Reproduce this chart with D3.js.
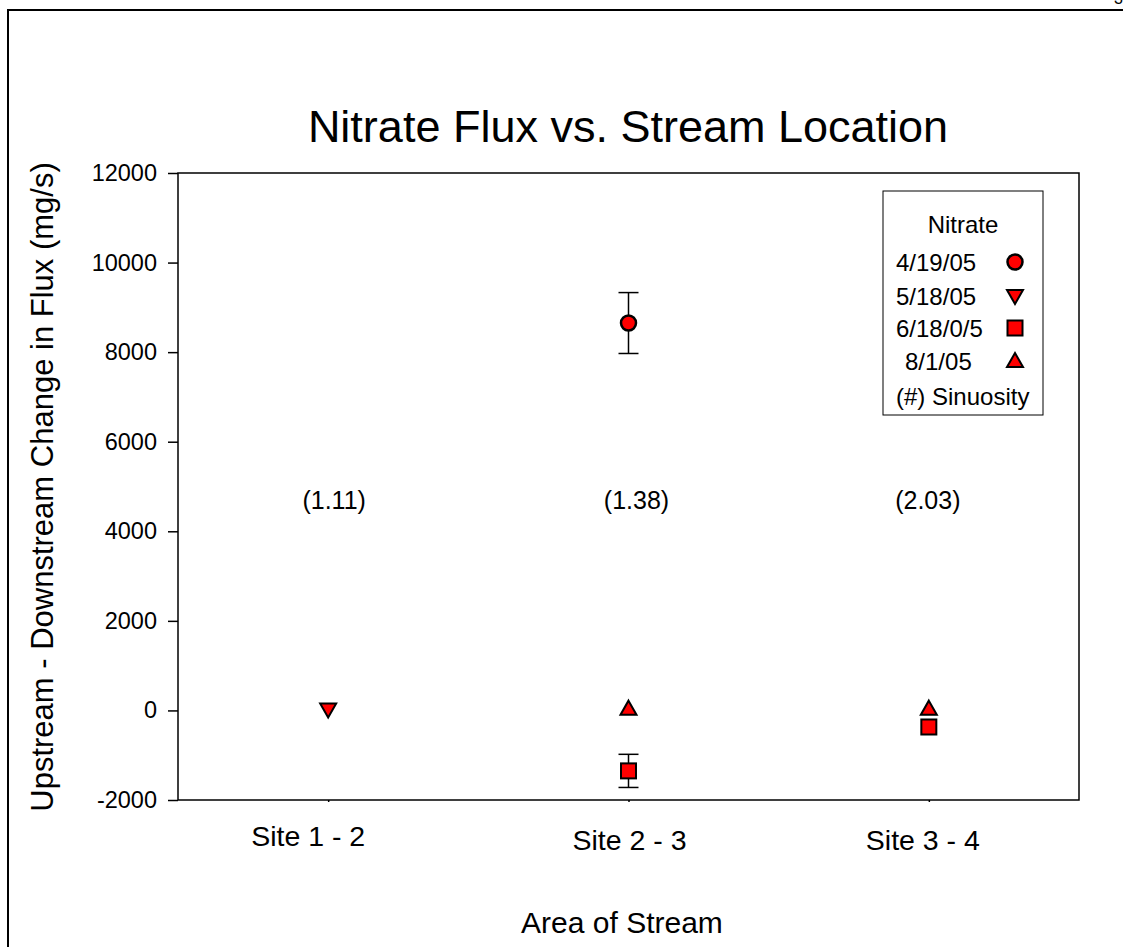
<!DOCTYPE html>
<html>
<head>
    <meta charset="utf-8">
    <title>Nitrate Flux vs. Stream Location</title>
    <script src="https://d3js.org/d3.v7.min.js"></script>
    <style>
        body { margin: 0; background: #fff; }
        text { font-family: "Liberation Sans", Arial, sans-serif; fill: #000; }
    </style>
</head>
<body>
    <div class="chart"></div>
    <script>
        // Data
        const sites = ["Site 1 - 2", "Site 2 - 3", "Site 3 - 4"];
        const sinuosity = ["(1.11)", "(1.38)", "(2.03)"];
        const sinuosityY = 4700;
        const yTicks = [-2000, 0, 2000, 4000, 6000, 8000, 10000, 12000];

        const dates = ["4/19/05", "5/18/05", "6/18/0/5", "8/1/05"];
        const symbols = ["circle", "triangleDown", "square", "triangleUp"];

        // [site index, value, error (null if none)] per date
        const apr19 = [[1, 8650, 680]];
        const may18 = [[0, 20, null]];
        const jun18 = [[1, -1350, 370], [2, -370, null]];
        const aug1 = [[1, 40, null], [2, 40, null]];
        const seriesList = [apr19, may18, jun18, aug1];

        // Layout
        const W = 1123, H = 947;
        const plot = {left: 178, top: 173, right: 1079, bottom: 800};

        const svg = d3.select(".chart")
            .append("svg")
            .attr("width", W)
            .attr("height", H);

        // Outer frame
        svg.append("rect")
            .attr("x", 8).attr("y", 10)
            .attr("width", W + 20).attr("height", H + 20)
            .attr("fill", "none").attr("stroke", "#000").attr("stroke-width", 2);

        svg.append("text")
            .attr("x", 1114).attr("y", 4)
            .attr("font-size", 16)
            .text("3");

        // Scales
        const x = d3.scaleLinear().domain([-0.5, 2.5]).range([plot.left, plot.right]);
        const y = d3.scaleLinear().domain([-2000, 12000]).range([plot.bottom, plot.top]);

        // Plot frame
        svg.append("rect")
            .attr("x", plot.left).attr("y", plot.top)
            .attr("width", plot.right - plot.left).attr("height", plot.bottom - plot.top)
            .attr("fill", "none").attr("stroke", "#000").attr("stroke-width", 1.5);

        // Y axis
        const yAxis = svg.append("g")
            .attr("transform", `translate(${plot.left},0)`)
            .call(d3.axisLeft(y).tickValues(yTicks).tickSize(10).tickPadding(11).tickFormat(d => String(d)));
        yAxis.select(".domain").remove();
        yAxis.selectAll("line").attr("stroke-width", 1.5);
        yAxis.selectAll("text").attr("font-size", 23.5).attr("font-family", "Liberation Sans, Arial, sans-serif");

        // X axis (tiny ticks, labels below)
        const xAxis = svg.append("g")
            .attr("transform", `translate(0,${plot.bottom})`)
            .call(d3.axisBottom(x).tickValues([0, 1, 2]).tickSize(2).tickFormat(""));
        xAxis.select(".domain").remove();
        xAxis.selectAll("line").attr("stroke-width", 1.5);

        const labelDx = [-20, 1, -6];
        const labelY = [836, 840, 840];
        svg.selectAll(".site-label")
            .data(sites)
            .enter()
            .append("text")
            .attr("class", "site-label")
            .attr("x", (d, i) => x(i) + labelDx[i])
            .attr("y", (d, i) => labelY[i])
            .attr("text-anchor", "middle")
            .attr("dominant-baseline", "central")
            .attr("font-size", 28.5)
            .text(d => d);

        // Sinuosity labels
        const sinDx = [6, 8, -1];
        svg.selectAll(".sin-label")
            .data(sinuosity)
            .enter()
            .append("text")
            .attr("class", "sin-label")
            .attr("x", (d, i) => x(i) + sinDx[i])
            .attr("y", y(sinuosityY))
            .attr("text-anchor", "middle")
            .attr("dominant-baseline", "central")
            .attr("font-size", 25)
            .text(d => d);

        // Titles
        svg.append("text")
            .attr("x", 628).attr("y", 126)
            .attr("text-anchor", "middle")
            .attr("dominant-baseline", "central")
            .attr("font-size", 45)
            .text("Nitrate Flux vs. Stream Location");

        svg.append("text")
            .attr("x", 622).attr("y", 922)
            .attr("text-anchor", "middle")
            .attr("dominant-baseline", "central")
            .attr("font-size", 30)
            .text("Area of Stream");

        svg.append("text")
            .attr("transform", "translate(42,487) rotate(-90)")
            .attr("text-anchor", "middle")
            .attr("dominant-baseline", "central")
            .attr("font-size", 31)
            .text("Upstream - Downstream Change in Flux (mg/s)");

        // Marker drawing
        function marker(g, type, cx, cy) {
            const s = {fill: "#ff0000", stroke: "#000", sw: 2};
            if (type === "circle") {
                g.append("circle").attr("cx", cx).attr("cy", cy).attr("r", 7.5)
                    .attr("fill", s.fill).attr("stroke", s.stroke).attr("stroke-width", 2.5);
            } else if (type === "square") {
                g.append("rect").attr("x", cx - 7.5).attr("y", cy - 7.5).attr("width", 15).attr("height", 15)
                    .attr("fill", s.fill).attr("stroke", s.stroke).attr("stroke-width", s.sw);
            } else if (type === "triangleUp") {
                g.append("path").attr("d", `M${cx},${cy - 8} L${cx + 8},${cy + 6} L${cx - 8},${cy + 6} Z`)
                    .attr("fill", s.fill).attr("stroke", s.stroke).attr("stroke-width", s.sw).attr("stroke-linejoin", "miter");
            } else {
                g.append("path").attr("d", `M${cx - 8},${cy - 6} L${cx + 8},${cy - 6} L${cx},${cy + 8} Z`)
                    .attr("fill", s.fill).attr("stroke", s.stroke).attr("stroke-width", s.sw).attr("stroke-linejoin", "miter");
            }
        }

        // Error bars, then markers
        const marks = svg.append("g");
        seriesList.forEach((series, si) => {
            series.forEach(([site, v, err]) => {
                if (err == null) return;
                const cx = x(site);
                marks.append("line").attr("x1", cx).attr("x2", cx)
                    .attr("y1", y(v + err)).attr("y2", y(v - err))
                    .attr("stroke", "#000").attr("stroke-width", 1.5);
                [v + err, v - err].forEach(e => {
                    marks.append("line").attr("x1", cx - 10).attr("x2", cx + 10)
                        .attr("y1", y(e)).attr("y2", y(e))
                        .attr("stroke", "#000").attr("stroke-width", 1.5);
                });
            });
        });
        seriesList.forEach((series, si) => {
            series.forEach(([site, v]) => marker(marks, symbols[si], x(site), y(v)));
        });

        // Legend
        const lg = svg.append("g");
        lg.append("rect")
            .attr("x", 883).attr("y", 191).attr("width", 160).attr("height", 224)
            .attr("fill", "#fff").attr("stroke", "#000").attr("stroke-width", 1);
        lg.append("text")
            .attr("x", 963).attr("y", 224)
            .attr("text-anchor", "middle").attr("dominant-baseline", "central")
            .attr("font-size", 24).text("Nitrate");
        const rowY = [262, 296, 328, 361];
        const rowX = [896, 896, 896, 905];
        dates.forEach((d, i) => {
            lg.append("text")
                .attr("x", rowX[i]).attr("y", rowY[i])
                .attr("dominant-baseline", "central")
                .attr("font-size", 24).text(d);
            marker(lg, symbols[i], 1015, rowY[i]);
        });
        lg.append("text")
            .attr("x", 896).attr("y", 396)
            .attr("dominant-baseline", "central")
            .attr("font-size", 24).text("(#) Sinuosity");
    </script>
</body>
</html>
